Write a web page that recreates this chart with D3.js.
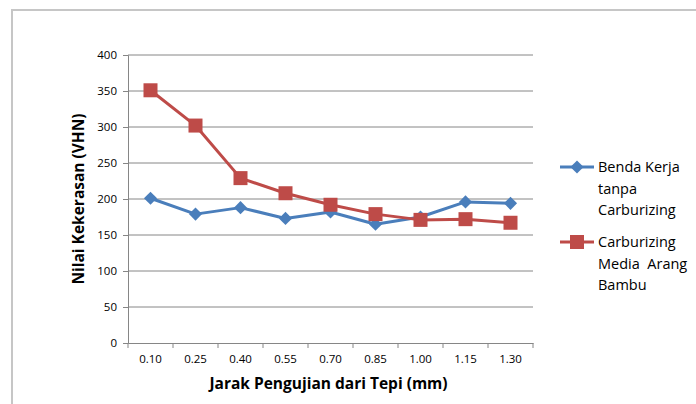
<!DOCTYPE html>
<html><head><meta charset="utf-8">
<script src="https://cdn.jsdelivr.net/npm/d3@7"></script>
<style>body{margin:0;background:#fff}svg{display:block}text{font-family:"Open Sans",Lato,sans-serif}</style>
</head><body><svg id="c" width="696" height="404"></svg>
<script>
const categories = ["0.10","0.25","0.40","0.55","0.70","0.85","1.00","1.15","1.30"];
const bendaKerja = [201,179,188,173,182,165,175,196,194];
const arangBambu = [351,302,229,208,192,179,171,172,167];
const yTicks = [0,50,100,150,200,250,300,350,400];
const seriesNames = [["Benda Kerja","tanpa","Carburizing"],["Carburizing","Media  Arang","Bambu"]];
const colors = ["#4a7ebb","#be4b48"];

const svg = d3.select("#c");
svg.append("rect").attr("x",12).attr("y",10).attr("width",700).attr("height",420)
  .attr("fill","none").attr("stroke","#c6c6c6").attr("stroke-width",2);

const m = {l:128, r:533, t:55, b:343};
const x = d3.scaleBand().domain(categories).range([m.l,m.r]);
const y = d3.scaleLinear().domain([0,400]).range([m.b,m.t]);

// gridlines
svg.append("g").selectAll("line").data(yTicks.slice(1)).join("line")
  .attr("x1",m.l).attr("x2",m.r).attr("y1",d=>y(d)).attr("y2",d=>y(d))
  .attr("stroke","#868686").attr("stroke-width",1);

const ya = svg.append("g").attr("transform",`translate(${m.l},0)`)
  .call(d3.axisLeft(y).tickValues(yTicks).tickSize(5).tickPadding(6));
ya.select(".domain").attr("stroke","#868686");
ya.selectAll(".tick line").attr("stroke","#868686");
ya.selectAll("text").attr("font-size",11.5).attr("fill","#000");

const xa = svg.append("g").attr("transform",`translate(0,${m.b})`)
  .call(d3.axisBottom(x).tickSize(0).tickPadding(12));
xa.select(".domain").attr("stroke","#868686");
xa.selectAll("text").attr("font-size",11.5).attr("fill","#000");
// category boundary ticks
const bounds = categories.map(c=>x(c)).concat([m.r]);
svg.append("g").selectAll("line").data(bounds).join("line")
  .attr("x1",d=>d).attr("x2",d=>d).attr("y1",m.b).attr("y2",m.b+5)
  .attr("stroke","#868686");

svg.append("text").attr("x",(m.l+m.r)/2-2).attr("y",389).attr("text-anchor","middle")
  .attr("font-size",15.5).attr("font-weight","bold").text("Jarak Pengujian dari Tepi (mm)");
svg.append("text").attr("transform","translate(84,199) rotate(-90)").attr("text-anchor","middle")
  .attr("font-size",15.5).attr("font-weight","bold").text("Nilai Kekerasan (VHN)");

const line = d3.line().x((d,i)=>x(categories[i])+x.bandwidth()/2).y(d=>y(d));
[bendaKerja, arangBambu].forEach((s,k)=>{
  svg.append("path").datum(s).attr("d",line).attr("fill","none")
    .attr("stroke",colors[k]).attr("stroke-width",3).attr("stroke-linejoin","round");
});
const diamond = d3.symbol().type(d3.symbolDiamond2).size(110);
svg.append("g").selectAll("path").data(bendaKerja).join("path")
  .attr("transform",(d,i)=>`translate(${x(categories[i])+x.bandwidth()/2},${y(d)})`)
  .attr("d",diamond).attr("fill",colors[0]);
svg.append("g").selectAll("rect").data(arangBambu).join("rect")
  .attr("x",(d,i)=>x(categories[i])+x.bandwidth()/2-7).attr("y",d=>y(d)-7)
  .attr("width",14).attr("height",14).attr("fill",colors[1]);

// legend
const ly = [167,242];
seriesNames.forEach((names,k)=>{
  const g = svg.append("g");
  g.append("line").attr("x1",560).attr("x2",594).attr("y1",ly[k]).attr("y2",ly[k])
    .attr("stroke",colors[k]).attr("stroke-width",3);
  if(k===0) g.append("path").attr("transform",`translate(577,${ly[k]})`).attr("d",diamond).attr("fill",colors[0]);
  else g.append("rect").attr("x",570).attr("y",ly[k]-7).attr("width",14).attr("height",14).attr("fill",colors[1]);
  names.forEach((t,j)=>{
    g.append("text").attr("x",598).attr("y",ly[k]+5+j*21.5).attr("font-size",14.5)
      .attr("fill","#000").attr("xml:space","preserve").style("white-space","pre").text(t);
  });
});
</script></body></html>
